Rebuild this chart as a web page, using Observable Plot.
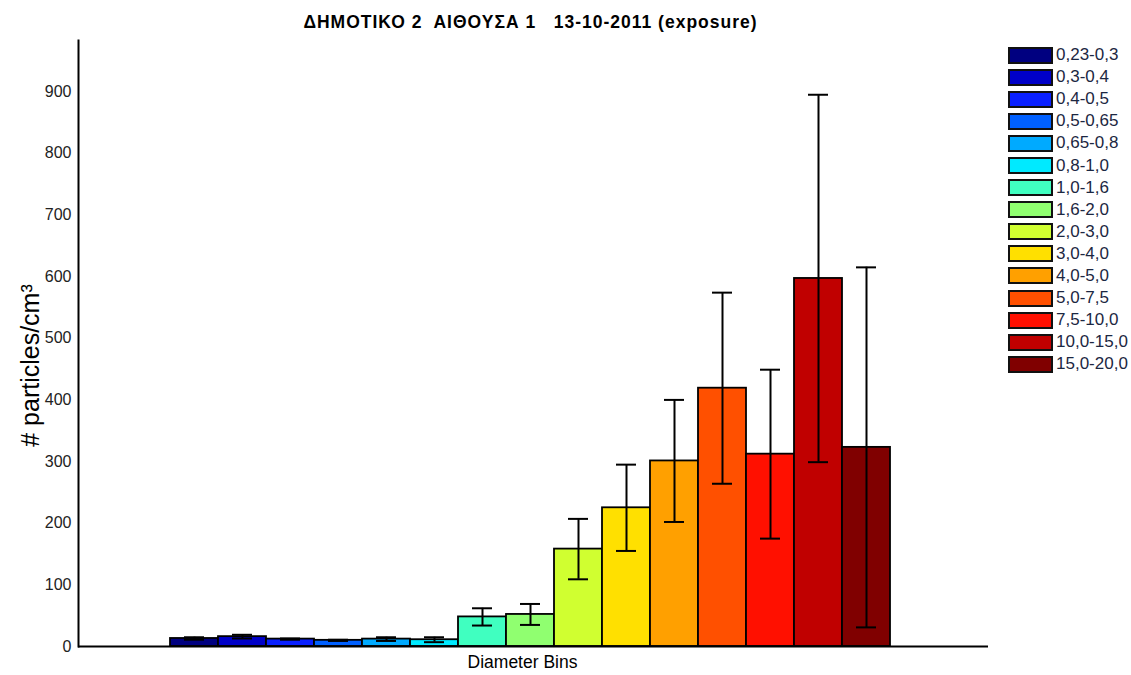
<!DOCTYPE html>
<html>
<head>
<meta charset="utf-8">
<script src="https://cdn.jsdelivr.net/npm/d3@7"></script>
<script src="https://cdn.jsdelivr.net/npm/@observablehq/plot@0.6"></script>
<style>
  html, body { margin: 0; padding: 0; background: #fff; }
  #wrap { position: relative; width: 1131px; height: 675px; font-family: "Liberation Sans", Arial, sans-serif; }
  #title { position: absolute; top: 12px; left: 0; width: 1061px; text-align: center; font-weight: bold; font-size: 17.5px; line-height: 20px; letter-spacing: 1px; white-space: pre; color: #000; }
  #legend { position: absolute; left: 1008px; top: 44px; }
  .row { display: flex; align-items: center; height: 22.1px; }
  .sw { width: 41px; height: 13px; border: 2px solid #111; box-sizing: content-box; }
  .lab { margin-left: 3px; font-size: 17px; color: #1c2742; }
  #chart { position: absolute; left: 0; top: 0; }
</style>
</head>
<body>
<div id="wrap">
  <div id="chart"></div>
  <div id="title">ΔΗΜΟΤΙΚΟ 2  ΑΙΘΟΥΣΑ 1   13-10-2011 (exposure)</div>
  <div id="legend"></div>
</div>
<script>
const bins = ["0,23-0,3","0,3-0,4","0,4-0,5","0,5-0,65","0,65-0,8","0,8-1,0","1,0-1,6","1,6-2,0","2,0-3,0","3,0-4,0","4,0-5,0","5,0-7,5","7,5-10,0","10,0-15,0","15,0-20,0"];
const means = [13, 16, 12, 10, 12, 11, 48, 52, 158, 225, 301, 419, 312, 597, 323];
const errs  = [2, 3, 1, 1, 3, 4, 14, 17, 49, 70, 99, 155, 137, 298, 292];
const colors = ["#000080","#0000c8","#0a20ff","#0060ff","#00aaff","#00eaff","#40ffc0","#90ff70","#d0ff30","#ffe000","#ffa000","#ff5000","#ff1000","#c00000","#800000"];
const yTicks = [0, 100, 200, 300, 400, 500, 600, 700, 800, 900];

const data = bins.map((b, i) => ({bin: b, mean: means[i], lo: means[i] - errs[i], hi: means[i] + errs[i]}));

const plot = Plot.plot({
  width: 1131,
  height: 675,
  marginLeft: 78,
  marginRight: 143,
  marginTop: 40,
  marginBottom: 29,
  style: {fontFamily: "Liberation Sans, Arial, sans-serif", fontSize: "16px", color: "#222", background: "transparent"},
  x: {domain: bins, paddingInner: 0, paddingOuter: 1.9, align: 0.484, axis: null},
  y: {domain: [0, 983], axis: null},
  color: {domain: bins, range: colors},
  marks: [
    Plot.barY(data, {x: "bin", y: "mean", fill: "bin", stroke: "#000", strokeWidth: 1.8}),
    Plot.ruleX(data, {x: "bin", y1: "lo", y2: "hi", stroke: "#000", strokeWidth: 2}),
    Plot.tickY(data, {x: "bin", y: "lo", stroke: "#000", strokeWidth: 2, insetLeft: 14, insetRight: 14}),
    Plot.tickY(data, {x: "bin", y: "hi", stroke: "#000", strokeWidth: 2, insetLeft: 14, insetRight: 14}),
    Plot.axisY({ticks: yTicks, tickSize: 0, tickPadding: 7, label: null, fontSize: 16}),
    Plot.frame({anchor: "left", stroke: "#000", strokeWidth: 2}),
    Plot.ruleY([0], {stroke: "#000", strokeWidth: 2}),
    Plot.text(["# particles/cm³"], {frameAnchor: "left", textAnchor: "middle", rotate: -90, dx: -48, dy: 22, fontSize: 25, fill: "#000"}),
    Plot.text(["Diameter Bins"], {frameAnchor: "bottom", dy: 21, dx: -11, fontSize: 17.5, fill: "#000"})
  ]
});
document.getElementById("chart").appendChild(plot);

const legend = document.getElementById("legend");
bins.forEach((b, i) => {
  const row = document.createElement("div");
  row.className = "row";
  const sw = document.createElement("div");
  sw.className = "sw";
  sw.style.background = colors[i];
  const lab = document.createElement("span");
  lab.className = "lab";
  lab.textContent = b;
  row.appendChild(sw);
  row.appendChild(lab);
  legend.appendChild(row);
});
</script>
</body>
</html>
